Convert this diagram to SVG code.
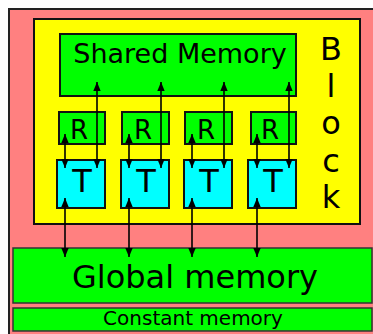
<svg xmlns="http://www.w3.org/2000/svg" width="373" height="334" viewBox="0 0 373 334">
<style>
text{font-family:"DejaVu Sans","Liberation Sans",sans-serif;fill:#000;text-anchor:middle}
.box{stroke:#111;stroke-width:2}
.mem{fill:#00ff00;stroke:#333;stroke-width:1.5}
.g{fill:#00ff00}
.c{fill:#00ffff}
.ln{stroke:#000;stroke-width:1.6;fill:none;marker-start:url(#ah);marker-end:url(#ah)}
</style>
<defs>
<marker id="ah" viewBox="0 0 9 8" refX="9" refY="4" markerWidth="9" markerHeight="8" markerUnits="userSpaceOnUse" orient="auto-start-reverse">
<path d="M0,0.3 L9,4 L0,7.7 Z" fill="#000"/>
</marker>
</defs>
<rect x="9" y="9" width="380" height="340" fill="#ff8080" stroke="#222" stroke-width="2"/>
<g id="block">
<rect x="34" y="19" width="326" height="205" fill="#ffff00" class="box"/>
<text font-size="32" x="331" y="60">B</text>
<text font-size="32" x="331" y="97">l</text>
<text font-size="32" x="331" y="134">o</text>
<text font-size="32" x="331" y="172">c</text>
<text font-size="32" x="331" y="208">k</text>
</g>
<g id="shared">
<rect x="60" y="34" width="236" height="62" class="box g"/>
<text font-size="27" x="180" y="63">Shared Memory</text>
</g>
<g id="r1"><rect x="59" y="112" width="46" height="32" class="box g"/><text font-size="26" x="79" y="139">R</text></g>
<g id="r2"><rect x="122" y="112" width="47" height="32" class="box g"/><text font-size="26" x="143" y="139">R</text></g>
<g id="r3"><rect x="185" y="112" width="47" height="32" class="box g"/><text font-size="26" x="206" y="139">R</text></g>
<g id="r4"><rect x="251" y="112" width="45" height="32" class="box g"/><text font-size="26" x="270" y="139">R</text></g>
<g id="t1"><rect x="57" y="160" width="48" height="48" class="box c"/><text font-size="32" x="82" y="192">T</text></g>
<g id="t2"><rect x="121" y="160" width="48" height="48" class="box c"/><text font-size="32" x="146" y="192">T</text></g>
<g id="t3"><rect x="184" y="160" width="48" height="48" class="box c"/><text font-size="32" x="209" y="192">T</text></g>
<g id="t4"><rect x="248" y="160" width="48" height="48" class="box c"/><text font-size="32" x="273" y="192">T</text></g>
<g id="global">
<rect x="13" y="248" width="359" height="55" class="mem"/>
<text font-size="32" x="195" y="288">Global memory</text>
</g>
<g id="constant">
<rect x="13" y="308" width="359" height="23" class="mem"/>
<text font-size="20" x="193" y="325">Constant memory</text>
</g>
<g id="connectors">
<line x1="97" y1="82" x2="97" y2="168" class="ln"/>
<line x1="161" y1="82" x2="161" y2="168" class="ln"/>
<line x1="224" y1="82" x2="224" y2="168" class="ln"/>
<line x1="289" y1="82" x2="289" y2="168" class="ln"/>
<line x1="65" y1="134" x2="65" y2="168" class="ln"/>
<line x1="129" y1="134" x2="129" y2="168" class="ln"/>
<line x1="192" y1="134" x2="192" y2="168" class="ln"/>
<line x1="257" y1="134" x2="257" y2="168" class="ln"/>
<line x1="65" y1="198" x2="65" y2="257" class="ln"/>
<line x1="129" y1="198" x2="129" y2="257" class="ln"/>
<line x1="192" y1="198" x2="192" y2="257" class="ln"/>
<line x1="257" y1="198" x2="257" y2="257" class="ln"/>
</g>
</svg>
